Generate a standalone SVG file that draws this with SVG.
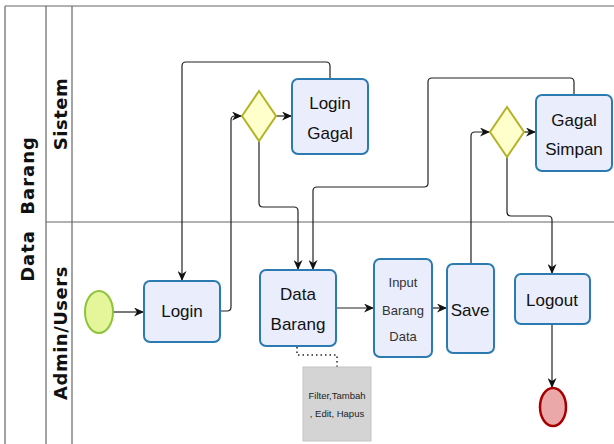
<svg xmlns="http://www.w3.org/2000/svg" width="614" height="444" viewBox="0 0 614 444">
<style>
.pool{fill:none;stroke:#666;stroke-width:1.2}
.lbl{font-family:"DejaVu Sans","Liberation Sans",sans-serif;font-weight:bold;font-size:18px;fill:#111;text-anchor:middle}
.task{fill:#eaedfb;stroke:#2b7bb0;stroke-width:2}
.tx{font-family:"Liberation Sans",Arial,sans-serif;font-size:17px;fill:#111;text-anchor:middle}
.txs{font-family:"Liberation Sans",Arial,sans-serif;font-size:13px;fill:#333;text-anchor:middle}
.gw{fill:#ffffcc;stroke:#b3b328;stroke-width:2}
.c{fill:none;stroke:#222;stroke-width:1.2}
.dot{fill:none;stroke:#222;stroke-width:1.5;stroke-dasharray:1.5 3}
</style>
<defs>
<marker id="ah" markerWidth="11" markerHeight="9" refX="10" refY="4.5" orient="auto" markerUnits="userSpaceOnUse">
<path d="M0,0 L10,4.5 L0,9 L3,4.5 z" fill="#111"/>
</marker>
</defs>
<rect width="614" height="444" fill="#fff"/>
<g id="pool">
<line class="pool" x1="5" y1="6" x2="614" y2="6"/>
<line class="pool" x1="5" y1="6" x2="5" y2="444"/>
<line class="pool" x1="46" y1="6" x2="46" y2="444"/>
<line class="pool" x1="72" y1="6" x2="72" y2="444"/>
<line class="pool" x1="46" y1="222" x2="614" y2="222"/>
<text class="lbl" transform="translate(34,209) rotate(-90)" letter-spacing="1" word-spacing="8">Data Barang</text>
<text class="lbl" transform="translate(67,114) rotate(-90)" letter-spacing="0.5">Sistem</text>
<text class="lbl" transform="translate(67,333) rotate(-90)" letter-spacing="0.5">Admin/Users</text>
</g>
<g id="connectors">
<path class="c" d="M113,312 L144,312" marker-end="url(#ah)"/>
<path class="c" d="M220,311 L227,311 Q231,311 231,307 L231,120 Q231,116 235,116 L242,116" marker-end="url(#ah)"/>
<path class="c" d="M276,116 L292,116" marker-end="url(#ah)"/>
<path class="c" d="M330,79 L330,66 Q330,62 326,62 L186,62 Q182,62 182,66 L182,281" marker-end="url(#ah)"/>
<path class="c" d="M259,141 L259,203 Q259,207 263,207 L294,207 Q298,207 298,211 L298,270" marker-end="url(#ah)"/>
<path class="c" d="M574,95 L574,82 Q574,78 570,78 L432,78 Q428,78 428,82 L428,183 Q428,187 424,187 L317,187 Q313,187 313,191 L313,270" marker-end="url(#ah)"/>
<path class="c" d="M336,308 L374,308" marker-end="url(#ah)"/>
<path class="c" d="M432,308 L447,308" marker-end="url(#ah)"/>
<path class="c" d="M471,264 L471,136 Q471,132 475,132 L490,132" marker-end="url(#ah)"/>
<path class="c" d="M524,132 L536,132" marker-end="url(#ah)"/>
<path class="c" d="M507,157 L507,212 Q507,216 511,216 L548,216 Q552,216 552,220 L552,274" marker-end="url(#ah)"/>
<path class="c" d="M552,324 L552,388" marker-end="url(#ah)"/>
<path class="dot" d="M297,347 L297,355 L337,355 L337,367"/>
</g>
<g id="start"><ellipse cx="99" cy="312" rx="14" ry="21" fill="#e4f59a" stroke="#8cc43c" stroke-width="2"/></g>
<g id="login"><rect class="task" x="144" y="281" width="76" height="61" rx="6"/><text class="tx" x="182" y="317">Login</text></g>
<g id="gw1"><path class="gw" d="M259,91 L276,116 L259,141 L242,116 z"/></g>
<g id="loginGagal"><rect class="task" x="292" y="79" width="76" height="75" rx="6"/><text class="tx" x="330" y="109">Login</text><text class="tx" x="330" y="139">Gagal</text></g>
<g id="dataBarang"><rect class="task" x="260" y="270" width="76" height="76" rx="6"/><text class="tx" x="298" y="300">Data</text><text class="tx" x="298" y="330">Barang</text></g>
<g id="input"><rect class="task" x="374" y="259" width="58" height="98" rx="6"/><text class="txs" x="403" y="287">Input</text><text class="txs" x="403" y="315">Barang</text><text class="txs" x="403" y="341">Data</text></g>
<g id="save"><rect class="task" x="447" y="264" width="47" height="89" rx="6"/><text class="tx" x="470" y="316" font-size="18">Save</text></g>
<g id="gw2"><path class="gw" d="M507,107 L524,132 L507,157 L490,132 z"/></g>
<g id="gagalSimpan"><rect class="task" x="536" y="95" width="76" height="76" rx="6"/><text class="tx" x="574" y="126">Gagal</text><text class="tx" x="574" y="155">Simpan</text></g>
<g id="logout"><rect class="task" x="515" y="274" width="75" height="50" rx="6"/><text class="tx" x="552" y="306">Logout</text></g>
<g id="end"><ellipse cx="553" cy="407" rx="13" ry="19" fill="#eaa8a8" stroke="#a80000" stroke-width="2.5"/></g>
<g id="annotation"><rect x="303" y="367" width="68" height="74" fill="#d4d4d4" stroke="#c4c4c4"/><text x="337" y="399" font-family="Liberation Sans,Arial,sans-serif" font-size="9.5" fill="#222" text-anchor="middle">Filter,Tambah</text><text x="337" y="417" font-family="Liberation Sans,Arial,sans-serif" font-size="9.5" fill="#222" text-anchor="middle">, Edit, Hapus</text></g>
</svg>
